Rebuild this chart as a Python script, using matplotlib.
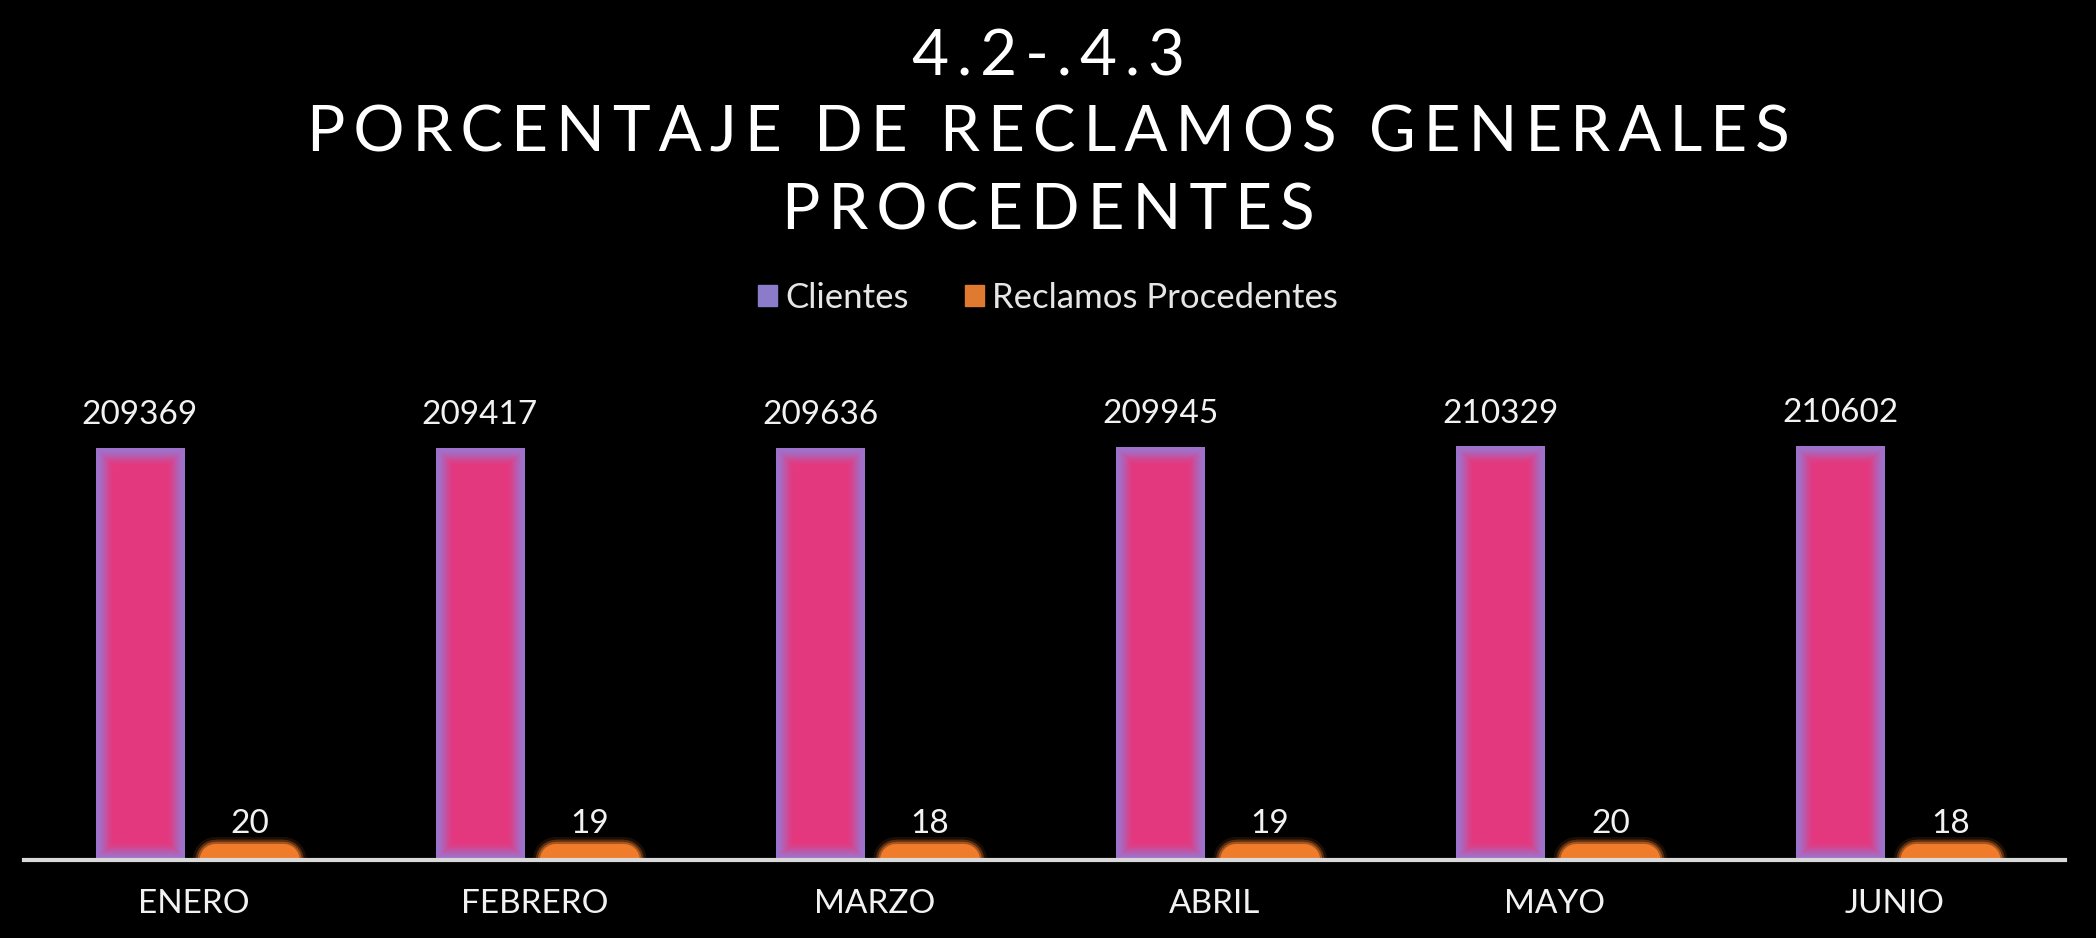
#Grafico de barras: clientes y reclamos procedentes por mes (fondo negro)

import matplotlib
matplotlib.use('Agg')
import matplotlib.pyplot as plt
import matplotlib.patheffects as pe
from matplotlib.patches import Rectangle
import numpy as np

#Datos
meses = ['ENERO', 'FEBRERO', 'MARZO', 'ABRIL', 'MAYO', 'JUNIO']
clientes = [209369, 209417, 209636, 209945, 210329, 210602]
reclamos = [20, 19, 18, 19, 20, 18]

titulo = ['4.2-.4.3', 'PORCENTAJE DE RECLAMOS GENERALES', 'PROCEDENTES']
leyenda = ['Clientes', 'Reclamos Procedentes']

#Colores
rosa = np.array([0.894, 0.220, 0.494])
violeta = np.array([0.62, 0.45, 0.80])
naranja = '#EF7B2B'
blanco = '#F2F2F2'

fuente = ['Lato', 'DejaVu Sans']
plt.rcParams['font.family'] = fuente
plt.rcParams['path.simplify'] = False


def espaciar(texto):
    #separa las letras con un espacio fino
    return '\u2009'.join(texto)


fig = plt.figure(figsize=(20.96, 9.38), dpi=100)
fig.patch.set_facecolor('black')
ax = fig.add_axes([0.0115, 0.0832, 0.9738, 0.5234])
ax.set_facecolor('black')

x = np.arange(len(meses))
ancho = 0.26

barras_c = ax.bar(x - 0.16, clientes, width=ancho, color=tuple(rosa), linewidth=0, zorder=2)
barras_r = ax.bar(x + 0.163, reclamos, width=0.2, color=naranja, edgecolor=naranja,
                  linewidth=23, joinstyle='round', capstyle='round', zorder=2)
for b in barras_r:
    b.set_snap(False)
    b.set_path_effects([pe.Stroke(linewidth=33, foreground=naranja, alpha=0.12),
                        pe.Stroke(linewidth=29, foreground=naranja, alpha=0.3),
                        pe.Stroke(linewidth=26, foreground=naranja, alpha=0.5),
                        pe.Normal()])

ax.set_xlim(-0.5, 5.5)
ax.set_ylim(0, 250000)

#Degradado interior de las barras de clientes (rosa al centro, violeta en bordes)
fig.canvas.draw()
for b in barras_c:
    bb = b.get_window_extent()
    w = max(int(bb.width), 2)
    h = max(int(bb.height), 2)
    xx = np.arange(w)[None, :]
    yy = np.arange(h)[:, None]
    d = np.minimum(np.minimum(xx, w - 1 - xx), np.minimum(yy, h - 1 - yy)).astype(float)
    t = np.clip(d / 18.0, 0, 1)
    t = t * t * (3 - 2 * t)
    img = violeta[None, None, :] * (1 - t[..., None]) + rosa[None, None, :] * t[..., None]
    x0, y0 = b.get_x(), b.get_y()
    ax.imshow(img, extent=(x0, x0 + b.get_width(), y0, y0 + b.get_height()),
              aspect='auto', origin='upper', zorder=3, interpolation='bilinear')

ax.set_xlim(-0.5, 5.5)
ax.set_ylim(0, 250000)

#Etiquetas de valores
for b, v in zip(barras_c, clientes):
    ax.annotate(str(v), (b.get_x() + b.get_width() / 2, v), xytext=(0, 24),
                textcoords='offset points', ha='center', va='center',
                color=blanco, fontsize=24)
for b, v in zip(barras_r, reclamos):
    ax.annotate(str(v), (b.get_x() + b.get_width() / 2, v), xytext=(0, 26),
                textcoords='offset points', ha='center', va='center',
                color=blanco, fontsize=24)

#Ejes
for lado in ['top', 'right', 'left']:
    ax.spines[lado].set_visible(False)
ax.spines['bottom'].set_color('#D9D9D9')
ax.spines['bottom'].set_linewidth(3)
ax.spines['bottom'].set_zorder(5)
ax.set_yticks([])
ax.set_xticks(x)
ax.set_xticklabels(meses, color=blanco, fontsize=24)
ax.tick_params(axis='x', length=0, pad=21)

#Titulo
for i, linea in enumerate(titulo):
    fig.text(0.5, 1 - [58, 134, 211][i] / 938, espaciar(linea), ha='center', va='center',
             color='white', fontsize=46)

#Leyenda
h1 = Rectangle((0, 0), 1, 1, color='#8B7BC8')
h2 = Rectangle((0, 0), 1, 1, color='#E07A30')
fig.legend([h1, h2], leyenda, loc='center', bbox_to_anchor=(0.5, 1 - 298 / 938),
           ncol=2, frameon=False, fontsize=25, labelcolor='#E6E6E6',
           handlelength=0.55, handleheight=0.55, handletextpad=0.25, columnspacing=1.6)

fig.savefig('out.png', dpi=100, facecolor='black')
